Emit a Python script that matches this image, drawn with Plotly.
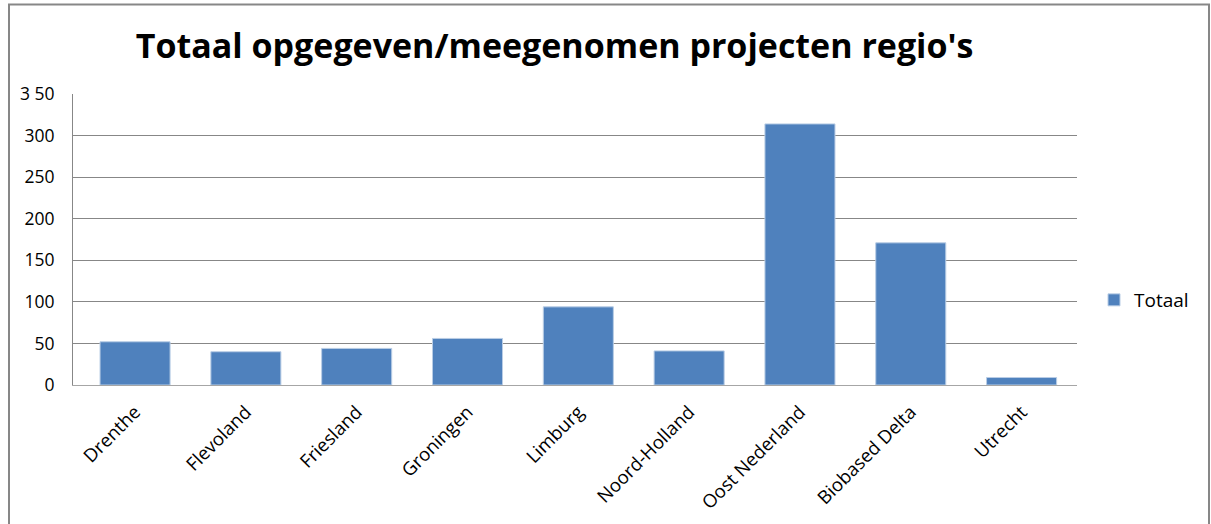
import plotly.graph_objects as go

categories = ["Drenthe", "Flevoland", "Friesland", "Groningen", "Limburg",
              "Noord-Holland", "Oost Nederland", "Biobased Delta", "Utrecht"]
totaal = [52, 40, 44, 56, 94, 41, 314, 171, 9]
y_ticks = [0, 50, 100, 150, 200, 250, 300, 350]
y_labels = ["0", "50", "100", "150", "200", "250", "300", "3 50"]

W, H = 1211, 524
L, R, T, B = 73, 1077, 94, 385  # plot area in pixels
FONT = "'Open Sans', Lato, sans-serif"

fig = go.Figure()
fig.add_trace(go.Bar(
    x=categories, y=totaal, name="Totaal",
    marker=dict(color="#4F81BD", line=dict(color="#B9CDE5", width=1)),
    showlegend=True,
))

def px_x(p):
    return (p - L) / (R - L)

def px_y(p):
    return (B - p) / (B - T)

fig.update_layout(
    width=W, height=H,
    margin=dict(l=L, r=W - R, t=T, b=H - B, pad=0, autoexpand=False),
    paper_bgcolor="white", plot_bgcolor="white",
    font=dict(family=FONT, size=18, color="#000000"),
    bargap=0.368,
    title=dict(text="<b>Totaal opgegeven/meegenomen projecten regio's</b>",
               x=0.458, xanchor="center", y=0.912, yanchor="middle",
               font=dict(family=FONT, size=34, color="#000000")),
    xaxis=dict(showgrid=False, tickangle=-45, showline=True, linecolor="#A6A6A6",
               linewidth=1, ticks="", ticklabelstandoff=8, automargin=False,
               range=[-0.56, 8.5], tickfont=dict(size=18.5)),
    yaxis=dict(range=[0, 350], tickvals=y_ticks, ticktext=y_labels,
               showgrid=True, gridcolor="#878787", gridwidth=1,
               showline=True, linecolor="#878787", linewidth=1, automargin=False,
               ticks="", ticklen=0, ticklabelstandoff=14, zeroline=False,
               tickfont=dict(size=17.5)),
    legend=dict(x=px_x(1094), y=px_y(300), xanchor="left", yanchor="middle",
                font=dict(size=19), itemwidth=30, bgcolor="rgba(0,0,0,0)"),
    shapes=[dict(type="rect", xref="paper", yref="paper",
                 x0=px_x(9), x1=px_x(1209), y0=px_y(540), y1=px_y(4.5),
                 line=dict(color="#878787", width=2), fillcolor="rgba(0,0,0,0)",
                 layer="below")],
)

fig.write_html("out.html", config={"displayModeBar": False},
               post_script="document.body.style.margin='0';")
